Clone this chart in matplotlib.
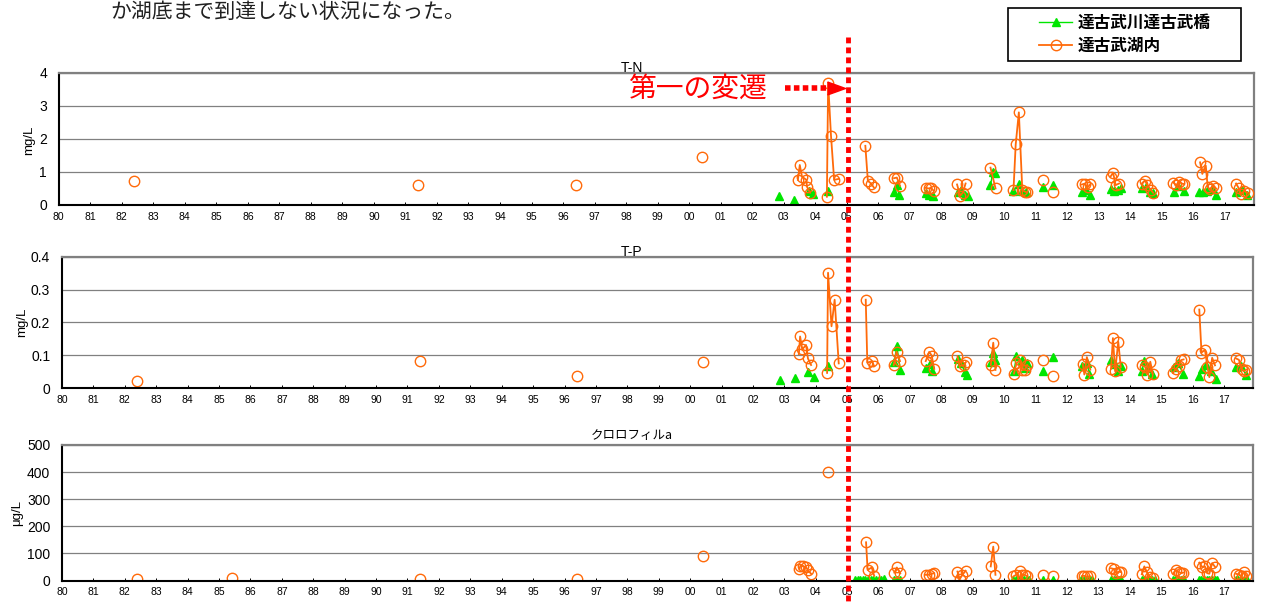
import numpy as np
import matplotlib
matplotlib.use('Agg')
import matplotlib.pyplot as plt
from matplotlib.lines import Line2D
from matplotlib.patches import Rectangle
from matplotlib.transforms import blended_transform_factory

plt.rcParams['font.family'] = ['Liberation Sans', 'Noto Sans CJK JP', 'DejaVu Sans']

W, H = 1261, 604

# ---- data (decimal year, value) ----
# T-N  mg/L
tn_lake_t = [1982.4, 1991.4, 1996.4, 2000.4,
             2003.45, 2003.51, 2003.58, 2003.72, 2003.74, 2003.84,
             2004.37, 2004.41, 2004.50, 2004.60, 2004.75,
             2005.59, 2005.67, 2005.77, 2005.86,
             2006.50, 2006.59, 2006.69,
             2007.50, 2007.60, 2007.67, 2007.76,
             2008.50, 2008.60, 2008.68, 2008.77,
             2009.56, 2009.72,
             2010.29, 2010.36, 2010.46, 2010.57, 2010.66, 2010.73,
             2011.22, 2011.54,
             2012.46, 2012.56, 2012.64, 2012.72,
             2013.37, 2013.45, 2013.53, 2013.64,
             2014.36, 2014.46, 2014.54, 2014.65, 2014.72,
             2015.36, 2015.46, 2015.55, 2015.63, 2015.71,
             2016.21, 2016.28, 2016.39, 2016.45, 2016.52, 2016.61, 2016.72,
             2017.35, 2017.44, 2017.52, 2017.61, 2017.72]
tn_lake_v = [0.72, 0.60, 0.60, 1.45,
             0.76, 1.21, 0.86, 0.76, 0.55, 0.37,
             0.25, 3.70, 2.10, 0.76, 0.79,
             1.79, 0.73, 0.65, 0.53,
             0.81, 0.83, 0.58,
             0.52, 0.50, 0.52, 0.43,
             0.62, 0.28, 0.37, 0.65,
             1.13, 0.50,
             0.45, 1.83, 2.80, 0.45, 0.40, 0.38,
             0.76, 0.40,
             0.62, 0.65, 0.53, 0.62,
             0.86, 0.98, 0.60, 0.65,
             0.65, 0.74, 0.60, 0.45, 0.37,
             0.68, 0.60, 0.71, 0.65, 0.63,
             1.29, 0.94, 1.19, 0.55, 0.47, 0.57, 0.50,
             0.65, 0.50, 0.33, 0.43, 0.37]
tn_river_t = [2002.84, 2003.34, 2003.79, 2003.93, 2004.39,
              2006.51, 2006.58, 2006.67,
              2007.50, 2007.61, 2007.74,
              2008.53, 2008.62, 2008.74, 2008.85,
              2009.56, 2009.64, 2009.71,
              2010.29, 2010.46, 2010.57, 2010.69,
              2011.22, 2011.55,
              2012.45, 2012.59, 2012.72,
              2013.37, 2013.47, 2013.59, 2013.70,
              2014.38, 2014.49, 2014.61, 2014.70,
              2015.37, 2015.52, 2015.70,
              2016.18, 2016.31, 2016.42, 2016.58, 2016.72,
              2017.36, 2017.54, 2017.69]
tn_river_v = [0.28, 0.15, 0.43, 0.33, 0.43,
              0.40, 0.60, 0.30,
              0.35, 0.30, 0.28,
              0.40, 0.45, 0.30, 0.28,
              0.60, 1.01, 0.96,
              0.43, 0.62, 0.43, 0.40,
              0.55, 0.60,
              0.38, 0.45, 0.30,
              0.47, 0.43, 0.45, 0.50,
              0.50, 0.55, 0.40, 0.37,
              0.40, 0.57, 0.43,
              0.40, 0.40, 0.43, 0.47, 0.30,
              0.38, 0.45, 0.30]

# T-P  mg/L
tp_lake_t = [1982.4, 1991.4, 1996.4, 2000.4,
             2003.46, 2003.50, 2003.57, 2003.69, 2003.75, 2003.85,
             2004.36, 2004.39, 2004.50, 2004.60, 2004.73,
             2005.59, 2005.64, 2005.79, 2005.86,
             2006.48, 2006.57, 2006.68,
             2007.50, 2007.61, 2007.69, 2007.77,
             2008.51, 2008.58, 2008.72, 2008.78,
             2009.57, 2009.65, 2009.72,
             2010.31, 2010.39, 2010.49, 2010.57, 2010.65, 2010.73,
             2011.23, 2011.56,
             2012.50, 2012.55, 2012.63, 2012.74,
             2013.40, 2013.46, 2013.53, 2013.63, 2013.71,
             2014.38, 2014.49, 2014.55, 2014.65, 2014.73,
             2015.37, 2015.46, 2015.55, 2015.63, 2015.71,
             2016.21, 2016.28, 2016.39, 2016.47, 2016.53, 2016.62, 2016.71,
             2017.38, 2017.47, 2017.56, 2017.63, 2017.71]
tp_lake_v = [0.022, 0.082, 0.037, 0.078,
             0.103, 0.157, 0.118, 0.131, 0.090, 0.070,
             0.046, 0.351, 0.188, 0.269, 0.075,
             0.269, 0.077, 0.082, 0.066,
             0.069, 0.111, 0.082,
             0.082, 0.110, 0.099, 0.058,
             0.097, 0.067, 0.070, 0.079,
             0.069, 0.138, 0.055,
             0.044, 0.075, 0.084, 0.054, 0.056, 0.070,
             0.084, 0.038,
             0.074, 0.041, 0.094, 0.056,
             0.059, 0.152, 0.051, 0.141, 0.064,
             0.070, 0.064, 0.041, 0.080, 0.043,
             0.046, 0.058, 0.067, 0.085, 0.087,
             0.239, 0.108, 0.116, 0.064, 0.033, 0.092, 0.069,
             0.090, 0.086, 0.059, 0.051, 0.056]
tp_river_t = [2002.85, 2003.34, 2003.76, 2003.93, 2004.38,
              2006.50, 2006.58, 2006.69,
              2007.50, 2007.63, 2007.71,
              2008.54, 2008.61, 2008.75, 2008.83,
              2009.57, 2009.65, 2009.72,
              2010.31, 2010.39, 2010.55, 2010.65, 2010.73,
              2011.23, 2011.56,
              2012.48, 2012.63, 2012.71,
              2013.40, 2013.52, 2013.62, 2013.71,
              2014.38, 2014.46, 2014.59, 2014.70,
              2015.39, 2015.52, 2015.70,
              2016.21, 2016.31, 2016.42, 2016.58, 2016.73,
              2017.38, 2017.53, 2017.71]
tp_river_v = [0.024, 0.031, 0.048, 0.033, 0.067,
              0.080, 0.128, 0.056,
              0.062, 0.074, 0.053,
              0.089, 0.077, 0.049, 0.041,
              0.080, 0.106, 0.084,
              0.051, 0.097, 0.084, 0.062, 0.077,
              0.051, 0.094,
              0.067, 0.077, 0.043,
              0.084, 0.074, 0.051, 0.067,
              0.053, 0.082, 0.062, 0.043,
              0.064, 0.077, 0.044,
              0.036, 0.059, 0.070, 0.051, 0.028,
              0.064, 0.067, 0.039]

# chlorophyll-a  ug/L
chl_lake_t = [1982.4, 1985.4, 1991.4, 1996.4, 2000.4,
              2003.48, 2003.51, 2003.59, 2003.69, 2003.75, 2003.85,
              2004.39,
              2005.60, 2005.65, 2005.78, 2005.86,
              2006.50, 2006.58, 2006.69,
              2007.50, 2007.61, 2007.69, 2007.77,
              2008.51, 2008.58, 2008.67, 2008.77,
              2009.57, 2009.65, 2009.72,
              2010.29, 2010.38, 2010.49, 2010.57, 2010.65, 2010.74,
              2011.23, 2011.56,
              2012.48, 2012.55, 2012.63, 2012.74,
              2013.40, 2013.48, 2013.55, 2013.66, 2013.71,
              2014.38, 2014.46, 2014.54, 2014.65, 2014.73,
              2015.37, 2015.46, 2015.55, 2015.63, 2015.70,
              2016.21, 2016.31, 2016.39, 2016.46, 2016.53, 2016.62, 2016.72,
              2017.38, 2017.47, 2017.56, 2017.63, 2017.71]
chl_lake_v = [5, 8, 4, 4, 89,
              43, 55, 52, 50, 37, 25,
              399,
              141, 39, 48, 17,
              29, 48, 27,
              21, 21, 25, 27,
              33, 5, 21, 36,
              52, 125, 21,
              15, 21, 36, 21, 21, 15,
              21, 17,
              17, 17, 15, 15,
              45, 43, 29, 33, 31,
              23, 52, 31, 12, 9,
              25, 37, 32, 27, 29,
              66, 49, 52, 27, 25, 64, 49,
              25, 21, 15, 33, 17]
chl_river_t = [2005.25, 2005.33, 2005.42, 2005.50, 2005.58, 2005.67,
               2005.75, 2005.83, 2005.92, 2006.00, 2006.08, 2006.17,
               2006.50, 2006.58, 2006.67,
               2010.29, 2010.38, 2010.46, 2010.55, 2010.63, 2010.72, 2010.80,
               2011.23, 2011.56,
               2012.45, 2012.55, 2012.63, 2012.72, 2012.80,
               2013.40, 2013.48, 2013.57, 2013.65, 2013.73,
               2014.37, 2014.45, 2014.55, 2014.63, 2014.72, 2014.80,
               2015.37, 2015.45, 2015.55, 2015.63, 2015.72,
               2016.20, 2016.28, 2016.37, 2016.45, 2016.53, 2016.62, 2016.70, 2016.78,
               2017.37, 2017.45, 2017.55, 2017.63, 2017.72]
chl_river_v = [2, 1, 2, 3, 2, 1, 2, 3, 2, 1, 2, 4,
               2, 3, 2,
               2, 3, 2, 2, 3, 2, 2,
               3, 3,
               2, 2, 3, 2, 2,
               3, 2, 2, 3, 2,
               2, 3, 2, 2, 3, 2,
               2, 3, 2, 2, 3,
               3, 2, 3, 2, 2, 3, 2, 2,
               2, 3, 2, 2, 3]

year_ticks = list(range(1980, 2018))
year_labels = ['%02d' % (y % 100) for y in year_ticks]

tn_yticks = [0, 1, 2, 3, 4]
tn_ylabels = ['0', '1', '2', '3', '4']
tp_yticks = [0, 0.1, 0.2, 0.3, 0.4]
tp_ylabels = ['0', '0.1', '0.2', '0.3', '0.4']
chl_yticks = [0, 100, 200, 300, 400, 500]
chl_ylabels = ['0', '100', '200', '300', '400', '500']

ORANGE = '#FF6A0A'
GREEN = '#00E600'
GRAY = '#808080'
JP = ['Noto Sans CJK JP', 'DejaVu Sans']


def with_breaks(t, v, gap=0.25):
    t = np.asarray(t, float)
    v = np.asarray(v, float)
    brk = np.where(np.diff(t) > gap)[0] + 1
    return np.insert(t, brk, np.nan), np.insert(v, brk, np.nan)


def px_axes(left, right, top, bottom):
    return fig.add_axes([left / W, 1 - bottom / H, (right - left) / W, (bottom - top) / H])


fig = plt.figure(figsize=(W / 100, H / 100), dpi=100)
fig.patch.set_facecolor('white')

ax1 = px_axes(58.7, 1254, 72.7, 205)
ax2 = px_axes(62, 1253, 256.7, 388)
ax3 = px_axes(62, 1253, 445, 580.5)

panels = [
    (ax1, tn_lake_t, tn_lake_v, tn_river_t, tn_river_v, tn_yticks, tn_ylabels, 4),
    (ax2, tp_lake_t, tp_lake_v, tp_river_t, tp_river_v, tp_yticks, tp_ylabels, 0.4),
    (ax3, chl_lake_t, chl_lake_v, chl_river_t, chl_river_v, chl_yticks, chl_ylabels, 500),
]

for ax, lt, lv, rt, rv, yt, yl, ymax in panels:
    x, y = with_breaks(rt, rv)
    river, = ax.plot(x, y, color=GREEN, lw=1.0, marker='^', ms=5.5,
                     mfc=GREEN, mec=GREEN, zorder=3)
    x, y = with_breaks(lt, lv)
    lake, = ax.plot(x, y, color=ORANGE, lw=1.3, marker='o', ms=7.5,
                    mfc='none', mec=ORANGE, mew=1.0, zorder=4)
    ax.set_xlim(1980, 2017.92)
    ax.set_ylim(0, ymax)
    ax.set_yticks(yt)
    ax.set_yticklabels(yl)
    ax.set_xticks(year_ticks)
    ax.set_xticklabels(year_labels)
    ax.tick_params(axis='y', length=0, pad=8.5, labelsize=10)
    ax.tick_params(axis='x', direction='in', length=2.5, width=0.7,
                   pad=5, labelsize=7.5)
    ax.grid(axis='y', color=GRAY, lw=0.9)
    ax.set_axisbelow(True)
    for s in ('left', 'bottom'):
        ax.spines[s].set_color('black')
        ax.spines[s].set_linewidth(1.5)
    for s in ('top', 'right'):
        ax.spines[s].set_color(GRAY)
        ax.spines[s].set_linewidth(1.6)
    ax.spines['bottom'].set_zorder(5)

# panel titles and y labels
fig.text(632 / W, 1 - 72.5 / H, 'T-N', ha='center', va='baseline', fontsize=10)
fig.text(632 / W, 1 - 256.5 / H, 'T-P', ha='center', va='baseline', fontsize=10)
fig.text(632 / W, 1 - 439 / H, 'クロロフィルa', ha='center', va='baseline',
         fontsize=9, family=JP)
fig.text(29 / W, 1 - 140 / H, 'mg/L', rotation=90, ha='center', va='center', fontsize=9.5)
fig.text(21.7 / W, 1 - 322 / H, 'mg/L', rotation=90, ha='center', va='center', fontsize=9.5)
fig.text(17 / W, 1 - 512.5 / H, 'μg/L', rotation=90, ha='center', va='center', fontsize=9.5)

# sentence of the surrounding document, shown at the top edge
fig.text(110 / W, 1 - 0.5 / H, 'か湖底まで到達しない状況になった。', ha='left', va='top',
         fontsize=15, family=JP, color='#202020')

# first transition marker
shift_year = 2005.03
tr = blended_transform_factory(ax1.transData, fig.transFigure)
fig.add_artist(Line2D([shift_year, shift_year], [1 - 37 / H, 0], transform=tr,
                      color='red', lw=3.5, linestyle=(0, (1.2, 0.85)),
                      solid_capstyle='butt', dash_capstyle='butt', zorder=10))
ax1.plot([2003.05, 2004.36], [3.54, 3.54], color='red', lw=4,
         linestyle=(0, (1.0, 0.6)), dash_capstyle='butt', clip_on=False, zorder=6)
ax1.plot([2004.66], [3.54], color='red', ls='none',
         marker=[(-1, -0.72), (1, 0), (-1, 0.72)], ms=13, clip_on=False, zorder=6)
fig.text(628 / W, 1 - 90 / H, '第一の変遷', ha='left', va='center', fontsize=20,
         color='red', family=JP)

# legend box
fig.add_artist(Rectangle((1008 / W, 1 - 60.7 / H), (1241 - 1008) / W, (60.7 - 8) / H,
                         transform=fig.transFigure, facecolor='white',
                         edgecolor='black', lw=1.2, zorder=8))
h1 = Line2D([], [], color=GREEN, lw=1.0, marker='^', ms=5.5, mfc=GREEN, mec=GREEN)
h2 = Line2D([], [], color=ORANGE, lw=1.3, marker='o', ms=7.5, mfc='none', mec=ORANGE)
leg = fig.legend([h1, h2], ['達古武川達古武橋', '達古武湖内'], loc='center',
                 bbox_to_anchor=(1124.5 / W, 1 - 34.3 / H), frameon=False,
                 prop={'family': JP, 'size': 12, 'weight': 'bold'},
                 handlelength=2.0, handletextpad=0.3, labelspacing=0.3)
leg.set_zorder(9)

fig.savefig('out.png', dpi=100)
